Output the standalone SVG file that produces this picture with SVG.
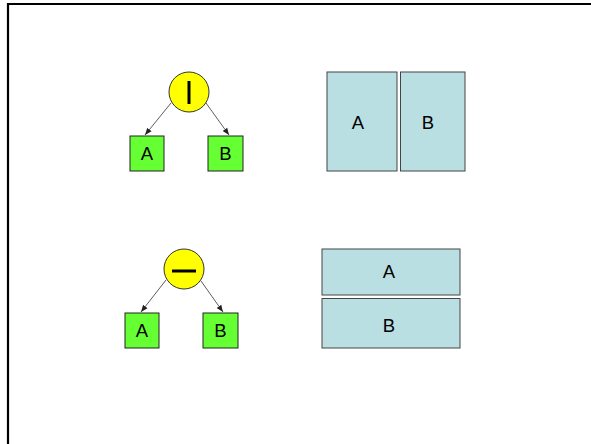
<svg xmlns="http://www.w3.org/2000/svg" width="591" height="444" viewBox="0 0 591 444">
  <defs>
    <marker id="arrow" viewBox="0 0 10 10" refX="10" refY="5" markerWidth="7" markerHeight="7" markerUnits="userSpaceOnUse" orient="auto">
      <path d="M0,1 L10,5 L0,9 Z" fill="#222"/>
    </marker>
    <style>
      .op { fill: #FFFF00; stroke: #333; stroke-width: 1; }
      .leaf { fill: #66FF33; stroke: #222; stroke-width: 1; }
      .pane { fill: #B9DFE3; stroke: #444; stroke-width: 1; }
      .lbl { font-family: "Liberation Sans", Arial, sans-serif; font-size: 18.5px; fill: #000; text-anchor: middle; }
      .edge { stroke: #333; stroke-width: 0.8; fill: none; marker-end: url(#arrow); }
      .sym { stroke: #000; stroke-width: 3; }
    </style>
  </defs>
  <rect width="591" height="444" fill="#fff"/>
  <!-- slide frame -->
  <path d="M8,444 V4 H591" fill="none" stroke="#000" stroke-width="2.2"/>

  <!-- connectors -->
  <g id="connectors">
    <line class="edge" x1="171" y1="103" x2="145" y2="135"/>
    <line class="edge" x1="206" y1="103" x2="229" y2="135"/>
    <line class="edge" x1="166" y1="280" x2="141" y2="312"/>
    <line class="edge" x1="201" y1="281" x2="223" y2="312"/>
  </g>

  <!-- vertical split tree -->
  <g id="vsplit">
    <circle class="op" cx="189" cy="92" r="20"/>
    <line class="sym" x1="189" y1="81" x2="189" y2="104"/>
  </g>
  <g id="vleafA">
    <rect class="leaf" x="130" y="136" width="34" height="35"/>
    <text class="lbl" x="147" y="160">A</text>
  </g>
  <g id="vleafB">
    <rect class="leaf" x="208" y="136" width="35" height="35"/>
    <text class="lbl" x="225.5" y="160">B</text>
  </g>

  <!-- horizontal split tree -->
  <g id="hsplit">
    <circle class="op" cx="184" cy="269" r="20"/>
    <line class="sym" x1="172" y1="271" x2="196" y2="271"/>
  </g>
  <g id="hleafA">
    <rect class="leaf" x="125" y="313" width="34" height="35"/>
    <text class="lbl" x="142" y="337">A</text>
  </g>
  <g id="hleafB">
    <rect class="leaf" x="203" y="313" width="35" height="35"/>
    <text class="lbl" x="220.5" y="337">B</text>
  </g>

  <!-- side-by-side layout -->
  <g id="paneVA">
    <rect class="pane" x="327" y="72" width="70" height="99"/>
    <text class="lbl" x="358" y="128.5">A</text>
  </g>
  <g id="paneVB">
    <rect class="pane" x="400.5" y="72" width="64.5" height="99"/>
    <text class="lbl" x="428" y="128.5">B</text>
  </g>

  <!-- stacked layout -->
  <g id="paneHA">
    <rect class="pane" x="322" y="249" width="138" height="46"/>
    <text class="lbl" x="389" y="278">A</text>
  </g>
  <g id="paneHB">
    <rect class="pane" x="322" y="298.5" width="138" height="49.5"/>
    <text class="lbl" x="389" y="331.5">B</text>
  </g>
</svg>
